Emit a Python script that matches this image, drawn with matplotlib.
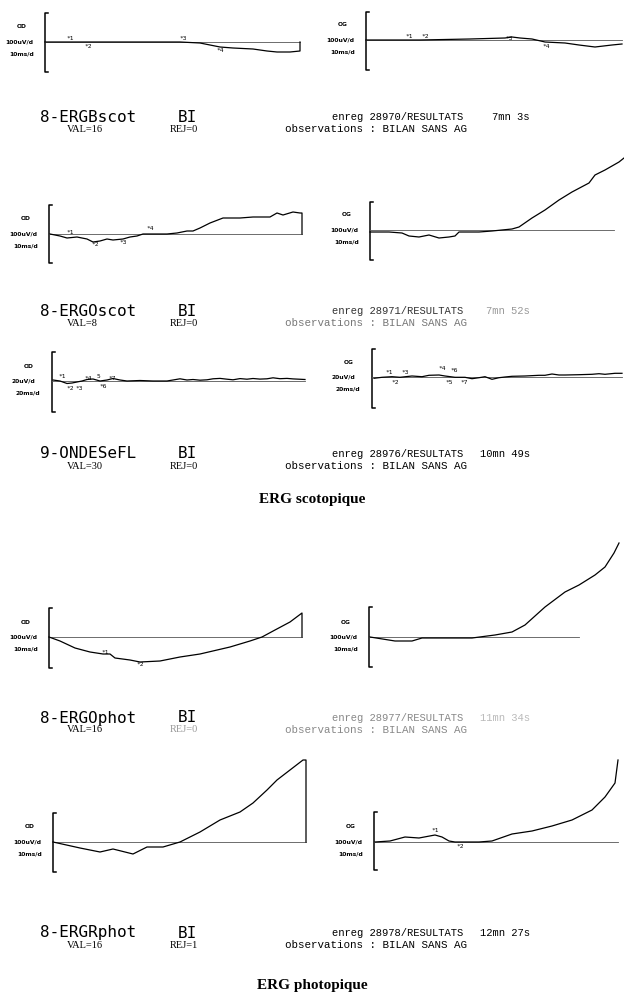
import matplotlib
matplotlib.use("Agg")
import matplotlib.pyplot as plt

W, H = 624, 1002

# ---- traces: x offset (px-like units) from stimulus, amplitude above baseline ----
bscot_od_x = [0, 135, 155, 175, 188, 208, 222, 232, 245, 255, 255]
bscot_od_y = [0, 0, -1, -5, -6, -7, -9, -10, -10, -9, 0]
bscot_og_x = [0, 54, 104, 139, 146, 154, 166, 179, 199, 213, 229, 246, 256]
bscot_og_y = [0, 0, 1, 2, 3, 2, 1, -2, -3, -5, -7, -5, -4]

oscot_od_x = [1, 11, 18, 28, 38, 44, 51, 58, 64, 74, 81, 88, 94, 118, 128, 138, 144, 151,
              161, 174, 191, 204, 221, 228, 234, 244, 251, 253, 253]
oscot_od_y = [0, -2, -4, -3, -5, -8, -7, -5, -6, -5, -3, -2, 0, 0, 1, 3, 3, 6,
              11, 16, 16, 17, 17, 21, 19, 22, 21, 21, 0]
oscot_og_x = [0, 19, 32, 39, 49, 59, 69, 79, 85, 89, 109, 122, 142, 149, 162, 175, 189,
              202, 219, 225, 235, 249, 254]
oscot_og_y = [-2, -2, -3, -6, -7, -5, -8, -7, -6, -2, -2, -1, 1, 3, 12, 20, 30,
              38, 47, 55, 60, 68, 72]

ondes_od_x = [1, 8, 15, 20, 25, 30, 35, 41, 48, 55, 61, 68, 75, 88, 101, 115, 121, 128,
              135, 141, 148, 155, 161, 168, 175, 181, 188, 195, 201, 208, 215, 221, 228,
              235, 241, 253]
ondes_od_y = [1, 0, -2.5, -2, -1, 0, 1.5, 2, 0, 1, 2.5, 1, 0, 0.5, 0, 0, 1, 2.2,
              1, 1.5, 0.8, 1.2, 2.2, 2.6, 1.8, 1.2, 2.4, 1.8, 2.5, 1.9, 2.2, 3.2, 2.3,
              2.6, 2.1, 1.5]
ondes_og_x = [2, 10, 20, 28, 40, 50, 57, 67, 73, 83, 93, 100, 107, 113, 120, 127, 133,
              140, 153, 167, 173, 180, 187, 193, 207, 220, 227, 233, 243, 250]
ondes_og_y = [-1.3, -0.3, 0.3, -0.3, 1, 0.3, 1.7, 2, 1, -0.3, -0.3, -1.7, -0.7, 0.3,
              -2.3, -0.7, 0, 0.7, 1, 1.7, 1.7, 3, 2, 2, 2.3, 2.7, 3.3, 2.7, 3.7, 3.7]

ophot_od_x = [0, 11, 26, 41, 54, 61, 66, 81, 91, 111, 131, 151, 181, 201, 213, 226, 241,
              253, 253]
ophot_od_y = [0, -4, -11, -15, -17, -17, -21, -23, -25, -24, -20, -17, -10, -4, 0, 7, 15,
              24, 0]
ophot_og_x = [1, 26, 43, 53, 103, 126, 143, 156, 176, 196, 210, 226, 236, 245, 250]
ophot_og_y = [0, -4, -4, -1, -1, 2, 5, 12, 30, 45, 52, 62, 70, 84, 94]

rphot_od_x = [0, 27, 47, 60, 80, 94, 110, 127, 147, 167, 187, 200, 214, 224, 237, 250,
              253, 253]
rphot_od_y = [0, -6, -10, -7, -12, -5, -5, 0, 10, 22, 30, 39, 52, 62, 72, 82, 82, 0]
rphot_og_x = [1, 16, 31, 45, 61, 68, 75, 81, 91, 105, 118, 138, 158, 178, 198, 218, 231,
              241, 244]
rphot_og_y = [0, 1, 5, 4, 7, 5, 1, 0, 0, 0, 1, 8, 11, 16, 22, 32, 45, 59, 82]

# cursor labels (text, x, y) per panel
bscot_od_marks = [("*1", 25, 4), ("*2", 43, -4), ("*3", 138, 4), ("*4", 175, -8)]
bscot_og_marks = [("*1", 43, 3), ("*2", 59, 3), ("*3", 143, 1), ("*4", 180, -6)]
oscot_od_marks = [("*1", 21, 2), ("*2", 46, -11), ("*3", 74, -9), ("*4", 101, 5)]
oscot_og_marks = []
ondes_od_marks = [("*1", 10, 4), ("*2", 18, -7), ("*3", 27, -7), ("*4", 36, 3),
                  ("5", 46, 4), ("*6", 51, -5), ("*7", 60, 3)]
ondes_og_marks = [("*1", 17, 5), ("*2", 23, -5), ("*3", 33, 4), ("*4", 70, 8),
                  ("*5", 77, -5), ("*6", 82, 7), ("*7", 92, -6)]
ophot_od_marks = [("*1", 56, -15), ("*2", 91, -28)]
ophot_og_marks = []
rphot_od_marks = []
rphot_og_marks = [("*1", 61, 11), ("*2", 86, -5)]

# record annotation blocks
names = ["8-ERGBscot", "8-ERGOscot", "9-ONDESeFL", "8-ERGOphot", "8-ERGRphot"]
side = "BI"
vals = [16, 8, 30, 16, 16]
rejs = [0, 0, 0, 0, 1]
enregs = [28970, 28971, 28976, 28977, 28978]
durations = ["7mn 3s", "7mn 52s", "10mn 49s", "11mn 34s", "12mn 27s"]
observation = "observations : BILAN SANS AG"
sections = ["ERG scotopique", "ERG photopique"]

# scan fading per block: (REJ, enreg, duration, observations)
fade = [("black", "black", "black", "black"),
        ("black", "#333333", "#999999", "#777777"),
        ("black", "black", "black", "black"),
        ("#999999", "#888888", "#bbbbbb", "#888888"),
        ("black", "black", "black", "black")]

# ---- layout in pixels: bracket x, baseline y, end x, bracket top, bracket bottom, baseline end ----
panels = [
    (45, 42, 300, 13, 72, 300, "OD", "100uV/d", "10ms/d", bscot_od_x, bscot_od_y, bscot_od_marks),
    (366, 40, 622, 12, 70, 622, "OG", "100uV/d", "10ms/d", bscot_og_x, bscot_og_y, bscot_og_marks),
    (49, 234, 302, 205, 263, 302, "OD", "100uV/d", "10ms/d", oscot_od_x, oscot_od_y, oscot_od_marks),
    (370, 230, 624, 202, 260, 614, "OG", "100uV/d", "10ms/d", oscot_og_x, oscot_og_y, oscot_og_marks),
    (52, 381, 305, 352, 412, 305, "OD", "20uV/d", "20ms/d", ondes_od_x, ondes_od_y, ondes_od_marks),
    (372, 377, 622, 349, 408, 622, "OG", "20uV/d", "20ms/d", ondes_og_x, ondes_og_y, ondes_og_marks),
    (49, 637, 302, 608, 668, 302, "OD", "100uV/d", "10ms/d", ophot_od_x, ophot_od_y, ophot_od_marks),
    (369, 637, 620, 607, 667, 579, "OG", "100uV/d", "10ms/d", ophot_og_x, ophot_og_y, ophot_og_marks),
    (53, 842, 306, 813, 872, 306, "OD", "100uV/d", "10ms/d", rphot_od_x, rphot_od_y, rphot_od_marks),
    (374, 842, 620, 812, 870, 618, "OG", "100uV/d", "10ms/d", rphot_og_x, rphot_og_y, rphot_og_marks),
]
block_y = [117, 311, 454, 718, 933]
section_y = [500, 985]

fig = plt.figure(figsize=(W / 100, H / 100), dpi=100)
fig.patch.set_facecolor("white")

small = dict(fontsize=4.3, fontweight="bold", family="DejaVu Sans", va="center")

for (x0, base, x_end, top, bot, base_end, eye, amp, tim, tx, ty, marks) in panels:
    ax = fig.add_axes([x0 / W, 1 - bot / H, (x_end - x0) / W, (bot - top) / H])
    ax.set_xlim(0, x_end - x0)
    ax.set_ylim(base - bot, base - top)
    ax.axis("off")
    lo, hi = base - bot, base - top
    ax.plot([3, 0, 0, 3], [lo, lo, hi, hi], color="black", lw=1.1, clip_on=False)
    ax.plot([0, base_end - x0], [0, 0], color="#555555", lw=0.6, clip_on=False)
    ax.plot(tx, ty, color="black", lw=0.9, clip_on=False)
    for lab, mx, my in marks:
        ax.text(mx, my, lab, fontsize=4.5, family="DejaVu Sans Mono", ha="center",
                va="center", clip_on=False)
    fig.text((x0 - 28) / W, 1 - (base - 15) / H, eye, **small)
    fig.text((x0 - 40) / W, 1 - base / H, amp, **small)
    fig.text((x0 - 36) / W, 1 - (base + 12) / H, tim, **small)

for i, y in enumerate(block_y):
    c_rej, c_enr, c_dur, c_obs = fade[i]
    fig.text(40 / W, 1 - y / H, names[i], fontsize=11.5, family="DejaVu Sans Mono",
             va="center", ha="left")
    fig.text(178 / W, 1 - y / H, side, fontsize=11.5, family="DejaVu Sans Mono",
             va="center", ha="left")
    fig.text(67 / W, 1 - (y + 12) / H, f"VAL={vals[i]}", fontsize=7.5,
             family="Liberation Serif", va="center")
    fig.text(170 / W, 1 - (y + 12) / H, f"REJ={rejs[i]}", fontsize=7.5,
             family="Liberation Serif", va="center", color=c_rej)
    fig.text(332 / W, 1 - y / H, f"enreg {enregs[i]}/RESULTATS", fontsize=7.6,
             family="Liberation Mono", va="center", color=c_enr)
    fig.text(530 / W, 1 - y / H, durations[i], fontsize=7.6, family="Liberation Mono",
             va="center", ha="right", color=c_dur)
    fig.text(285 / W, 1 - (y + 12) / H, observation, fontsize=7.8,
             family="Liberation Mono", va="center", color=c_obs)

for s, y in zip(sections, section_y):
    fig.text(0.5, 1 - y / H, s, fontsize=11, fontweight="bold",
             family="Liberation Serif", ha="center", va="center")

fig.savefig("out.png", dpi=100)
